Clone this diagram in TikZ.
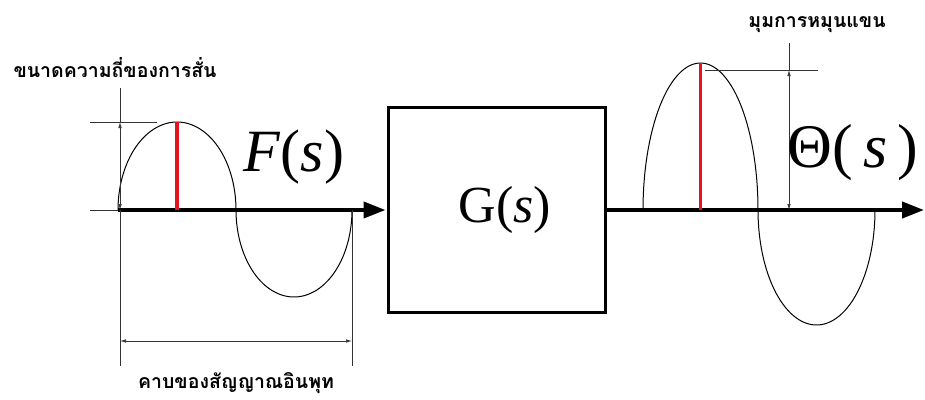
\documentclass[tikz,border=0pt]{standalone}
\usepackage{fontspec}
\setmainfont{Liberation Serif}
\newfontfamily\timesfont{Liberation Serif}
\newfontfamily\thaifont[Script=Thai]{Loma}
\usetikzlibrary{arrows.meta}
\definecolor{redline}{HTML}{E3141B}
\begin{document}
\begin{tikzpicture}[x=1pt,y=-1pt,
  axisline/.style={line width=4pt,-{Triangle[length=22pt,width=16pt]}},
  boxnode/.style={draw,line width=3pt,minimum width=217pt,minimum height=205pt,inner sep=0pt},
  dimline/.style={line width=0.7pt,black!80},
  dimarrows/.style={{Latex[length=6pt,width=3.5pt]}-{Latex[length=6pt,width=3.5pt]}},
  wave/.style={line width=1pt},
  peak/.style={line width=3.5pt,redline},
  thailabel/.style={font=\thaifont\bfseries\fontsize{19.5}{22}\selectfont,inner sep=0pt},
  bigmath/.style={inner sep=0pt}]
\useasboundingbox (0,0) rectangle (925,399);
% box
\node[boxnode] (G) at (496.5,210) {};
\node[bigmath,font=\timesfont\fontsize{52}{52}\selectfont] (Gt) at (505,210) {G(\textit{s})};
% axes
\coordinate (L0) at (118,210);
\coordinate (Rend) at (924,210);
\draw[axisline,shorten >=1pt] (L0) -- (G.west);
\draw[axisline] (G.east) -- (Rend);
% left wave
\draw[wave] plot[domain=180:0,samples=60] ({177+59*cos(\x)},{210-88*sin(\x)});
\draw[wave] plot[domain=180:360,samples=60] ({294+58*cos(\x)},{210-87*sin(\x)});
\draw[peak] (177,122) -- (177,210);
% right wave
\draw[wave] plot[domain=180:0,samples=60] ({700.5+57.5*cos(\x)},{210-147*sin(\x)});
\draw[wave] plot[domain=180:360,samples=60] ({816.5+58.5*cos(\x)},{210-115*sin(\x)});
\draw[peak] (700.5,63) -- (700.5,210);
% left amplitude dimension
\coordinate (A1) at (90,122);
\coordinate (A2) at (157,122);
\coordinate (A3) at (120,88);
\coordinate (A4) at (120,122);
\coordinate (A5) at (120,210);
\coordinate (A6) at (90,210);
\draw[dimline] (A1) -- (A2);
\draw[dimline] (A6) -- (L0);
\draw[dimline] (A3) -- (A4);
\draw[dimline,dimarrows] (A4) -- (A5);
% period dimension
\coordinate (P1) at (120,210);
\coordinate (P2) at (120,366);
\coordinate (P3) at (352,210);
\coordinate (P4) at (352,366);
\coordinate (P5) at (120,341);
\coordinate (P6) at (352,341);
\draw[dimline] (P1) -- (P2);
\draw[dimline] (P3) -- (P4);
\draw[dimline,dimarrows] (P5) -- (P6);
% right amplitude dimension
\coordinate (R1) at (705,70);
\coordinate (R2) at (818,70);
\coordinate (R3) at (789,43);
\coordinate (R4) at (789,70);
\coordinate (R5) at (789,210);
\draw[dimline] (R1) -- (R2);
\draw[dimline] (R3) -- (R4);
\draw[dimline,dimarrows] (R4) -- (R5);
% labels
\node[bigmath,font=\timesfont\fontsize{60}{60}\selectfont] (F) at (294,157) {\textit{F}(\textit{s})};
\node[bigmath,font=\timesfont\fontsize{62}{62}\selectfont] (Th) at (853,153) {Θ(\,\textit{s}\,)};
\node[thailabel] (t1) at (115,68) {ขนาดความถี่ของการสั่น};
\node[thailabel] (t2) at (236,383) {คาบของสัญญาณอินพุท};
\node[thailabel] (t3) at (817,25) {มุมการหมุนแขน};
\end{tikzpicture}
\end{document}
